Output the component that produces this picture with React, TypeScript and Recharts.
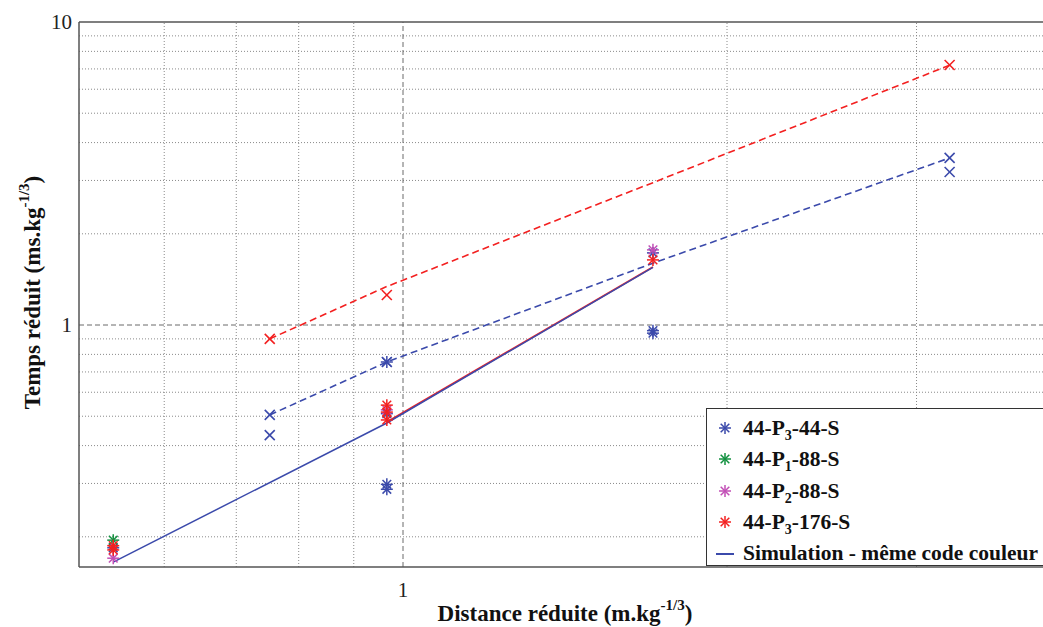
import React from 'react';
import { ScatterChart, Scatter, XAxis, YAxis, ReferenceLine, Label } from 'recharts';

// log-log plot: reduced time vs reduced distance
const BLUE = '#3b4aab';
const RED = '#f32020';
const GREEN = '#139140';
const MAGENTA = '#c24fb6';
const FONT = '"Liberation Serif", "Times New Roman", serif';

const xTicks = [0.5, 0.6, 0.7, 0.8, 0.9, 1, 2, 3, 4];
const yTicks = [0.2, 0.3, 0.4, 0.5, 0.6, 0.7, 0.8, 0.9, 1, 2, 3, 4, 5, 6, 7, 8, 9, 10];
const xLabels = [1];
const yLabels = [1, 10];
const xMinorGrid = [0.6, 0.7, 0.8, 0.9, 2, 3];
const yMinorGrid = [0.2, 0.3, 0.4, 0.5, 0.6, 0.7, 0.8, 0.9, 2, 3, 4, 5, 6, 7, 8, 9];

// experiments (asterisks)
const p3_44 = [
  { x: 0.538, y: 0.184 },
  { x: 0.966, y: 0.51 },
  { x: 0.966, y: 0.755 },
  { x: 0.966, y: 0.298 },
  { x: 0.966, y: 0.287 },
  { x: 1.707, y: 1.73 },
  { x: 1.707, y: 0.958 },
  { x: 1.707, y: 0.94 },
];
const p1_88 = [
  { x: 0.538, y: 0.195 },
];
const p2_88 = [
  { x: 0.538, y: 0.17 },
  { x: 0.966, y: 0.525 },
  { x: 1.707, y: 1.77 },
];
const p3_176 = [
  { x: 0.538, y: 0.187 },
  { x: 0.538, y: 0.181 },
  { x: 0.966, y: 0.544 },
  { x: 0.966, y: 0.516 },
  { x: 0.966, y: 0.486 },
  { x: 1.707, y: 1.64 },
];

// extra points drawn with x markers
const crossBlue = [
  { x: 0.752, y: 0.505 },
  { x: 0.752, y: 0.433 },
  { x: 0.966, y: 0.755 },
  { x: 3.22, y: 3.56 },
  { x: 3.22, y: 3.2 },
];
const crossRed = [
  { x: 0.752, y: 0.9 },
  { x: 0.966, y: 1.256 },
  { x: 3.22, y: 7.21 },
];

// simulations
const simBlueSolid = [
  { x: 0.538, y: 0.165 },
  { x: 0.966, y: 0.475 },
  { x: 1.707, y: 1.55 },
];
const simRedSolid = [
  { x: 0.966, y: 0.478 },
  { x: 1.707, y: 1.555 },
];
const simBlueDashed = [
  { x: 0.752, y: 0.505 },
  { x: 0.966, y: 0.755 },
  { x: 1.707, y: 1.6 },
  { x: 3.22, y: 3.56 },
];
const simRedDashed = [
  { x: 0.752, y: 0.9 },
  { x: 0.966, y: 1.34 },
  { x: 1.707, y: 2.95 },
  { x: 3.22, y: 7.2 },
];

const legendItems = [
  { pre: '44-P', sub: '3', post: '-44-S', color: BLUE },
  { pre: '44-P', sub: '1', post: '-88-S', color: GREEN },
  { pre: '44-P', sub: '2', post: '-88-S', color: MAGENTA },
  { pre: '44-P', sub: '3', post: '-176-S', color: RED },
];

const asterisk = (color: string, r = 6) => (props: any) => {
  const { cx, cy } = props;
  if (cx == null || cy == null) return <g />;
  const d = r * 0.72;
  return (
    <g stroke={color} strokeWidth={1.5}>
      <line x1={cx - r} y1={cy} x2={cx + r} y2={cy} />
      <line x1={cx} y1={cy - r} x2={cx} y2={cy + r} />
      <line x1={cx - d} y1={cy - d} x2={cx + d} y2={cy + d} />
      <line x1={cx - d} y1={cy + d} x2={cx + d} y2={cy - d} />
    </g>
  );
};

const cross = (color: string, r = 5) => (props: any) => {
  const { cx, cy } = props;
  if (cx == null || cy == null) return <g />;
  return (
    <g stroke={color} strokeWidth={1.6}>
      <line x1={cx - r} y1={cy - r} x2={cx + r} y2={cy + r} />
      <line x1={cx - r} y1={cy + r} x2={cx + r} y2={cy - r} />
    </g>
  );
};

const noPoint = () => <g />;

const XTick = (props: any) => {
  const { x, y, payload } = props;
  if (!xLabels.includes(payload.value)) return <g />;
  return (
    <text x={x} y={y + 22} textAnchor="middle" fontFamily={FONT} fontSize={21} fill="#222">
      {payload.value}
    </text>
  );
};

const YTick = (props: any) => {
  const { y, payload } = props;
  if (!yLabels.includes(payload.value)) return <g />;
  return (
    <text x={72} y={y + 7} textAnchor="end" fontFamily={FONT} fontSize={21} fill="#222">
      {payload.value}
    </text>
  );
};

const XTitle = (props: any) => {
  const { viewBox } = props;
  const cx = viewBox.x + viewBox.width / 2;
  return (
    <text x={cx} y={621} textAnchor="middle" fontFamily={FONT} fontSize={23} fontWeight="bold" fill="#111">
      Distance réduite (m.kg
      <tspan dy={-11} fontSize={15}>-1/3</tspan>
      <tspan dy={11} fontSize={23}>)</tspan>
    </text>
  );
};

const YTitle = (props: any) => {
  const { viewBox } = props;
  const cy = viewBox.y + viewBox.height / 2 - 2;
  const bx = 40;
  return (
    <text
      x={bx}
      y={cy}
      transform={`rotate(-90, ${bx}, ${cy})`}
      textAnchor="middle"
      fontFamily={FONT}
      fontSize={23}
      fontWeight="bold"
      fill="#111"
    >
      Temps réduit (ms.kg
      <tspan dy={-11} fontSize={15}>-1/3</tspan>
      <tspan dy={11} fontSize={23}>)</tspan>
    </text>
  );
};

const LegendStar = ({ color }: { color: string }) => (
  <svg width={16} height={16} style={{ display: 'block' }}>
    {asterisk(color, 6)({ cx: 8, cy: 8 })}
  </svg>
);

const App: React.FC = () => {
  return (
    <div
      style={{
        position: 'absolute',
        left: 0,
        top: 0,
        width: 1043,
        height: 627,
        overflow: 'hidden',
        background: '#fff',
      }}
    >
      <ScatterChart width={1070} height={627} margin={{ top: 22, right: 19, bottom: 0, left: 0 }}>
        <XAxis
          type="number"
          dataKey="x"
          scale="log"
          domain={[0.5, 4]}
          allowDataOverflow
          ticks={xTicks}
          tick={<XTick />}
          tickLine={false}
          axisLine={{ stroke: '#555', strokeWidth: 1.5 }}
          height={60}
          interval={0}
        >
          <Label content={<XTitle />} />
        </XAxis>
        <YAxis
          type="number"
          dataKey="y"
          scale="log"
          domain={[0.159, 10]}
          allowDataOverflow
          ticks={yTicks}
          tick={<YTick />}
          tickLine={false}
          axisLine={{ stroke: '#555', strokeWidth: 1.5 }}
          width={79}
          interval={0}
        >
          <Label content={<YTitle />} />
        </YAxis>

        {xMinorGrid.map((v) => (
          <ReferenceLine key={`gx${v}`} x={v} stroke="#8a8a8a" strokeWidth={1} strokeDasharray="1 2" />
        ))}
        {yMinorGrid.map((v) => (
          <ReferenceLine key={`gy${v}`} y={v} stroke="#8a8a8a" strokeWidth={1} strokeDasharray="1 2" />
        ))}
        <ReferenceLine x={1} stroke="#6a6a6a" strokeWidth={1} strokeDasharray="5 3" />
        <ReferenceLine y={1} stroke="#6a6a6a" strokeWidth={1} strokeDasharray="5 3" />
        <ReferenceLine y={10} stroke="#555" strokeWidth={1.5} />

        <Scatter data={simRedDashed} line={{ stroke: RED, strokeWidth: 1.6, strokeDasharray: '7 4' }} lineType="joint" shape={noPoint} isAnimationActive={false} />
        <Scatter data={simBlueDashed} line={{ stroke: BLUE, strokeWidth: 1.6, strokeDasharray: '7 4' }} lineType="joint" shape={noPoint} isAnimationActive={false} />
        <Scatter data={simRedSolid} line={{ stroke: RED, strokeWidth: 1.8 }} lineType="joint" shape={noPoint} isAnimationActive={false} />
        <Scatter data={simBlueSolid} line={{ stroke: BLUE, strokeWidth: 1.5 }} lineType="joint" shape={noPoint} isAnimationActive={false} />

        <Scatter data={crossBlue} shape={cross(BLUE)} isAnimationActive={false} />
        <Scatter data={crossRed} shape={cross(RED)} isAnimationActive={false} />

        <Scatter data={p3_44} shape={asterisk(BLUE)} isAnimationActive={false} />
        <Scatter data={p1_88} shape={asterisk(GREEN)} isAnimationActive={false} />
        <Scatter data={p2_88} shape={asterisk(MAGENTA)} isAnimationActive={false} />
        <Scatter data={p3_176} shape={asterisk(RED)} isAnimationActive={false} />
      </ScatterChart>

      <div
        style={{
          position: 'absolute',
          left: 706,
          top: 408,
          width: 360,
          height: 158,
          border: '1.5px solid #333',
          background: '#fff',
          fontFamily: FONT,
          fontWeight: 'bold',
          fontSize: 21.5,
          color: '#111',
          boxSizing: 'border-box',
          paddingTop: 3,
        }}
      >
        {legendItems.map((item, i) => (
          <div key={i} style={{ display: 'flex', alignItems: 'center', height: 31.5 }}>
            <div style={{ width: 36, display: 'flex', justifyContent: 'center' }}>
              <LegendStar color={item.color} />
            </div>
            <span style={{ lineHeight: '24px' }}>
              {item.pre}
              <sub style={{ fontSize: 14, lineHeight: 0 }}>{item.sub}</sub>
              {item.post}
            </span>
          </div>
        ))}
        <div style={{ display: 'flex', alignItems: 'center', height: 31.5 }}>
          <div style={{ width: 36, display: 'flex', justifyContent: 'center' }}>
            <div style={{ width: 18, height: 2, background: BLUE }} />
          </div>
          <span>Simulation - même code couleur</span>
        </div>
      </div>
    </div>
  );
};

export default App;
